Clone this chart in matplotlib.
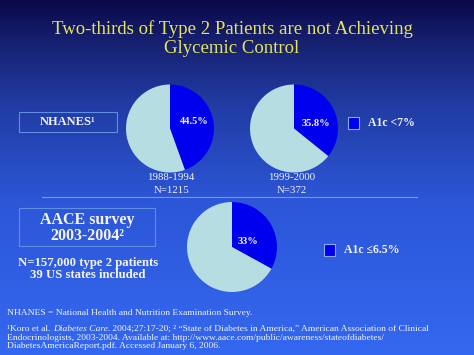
import numpy as np
import matplotlib
matplotlib.use("Agg")
import matplotlib.pyplot as plt
from matplotlib.patches import Rectangle
from matplotlib.lines import Line2D

# ---- data ----
title = "Two-thirds of Type 2 Patients are not Achieving\nGlycemic Control"
nhanes_periods = ["1988-1994", "1999-2000"]
nhanes_n = ["N=1215", "N=372"]
nhanes_pct = [44.5, 35.8]
aace_pct = [33]
legend_labels = ["A1c <7%", "A1c \u22646.5%"]
nhanes_label = "NHANES\u00b9"
aace_label = "AACE survey\n2003-2004\u00b2"
aace_note = "N=157,000 type 2 patients\n39 US states included"

W, H = 474, 355
fig = plt.figure(figsize=(W / 100, H / 100), dpi=100)

# background gradient
bg = fig.add_axes([0, 0, 1, 1])
stops_y = np.array([0, 40, 100, 200, 355]) / H
stops_c = np.array([[10, 8, 72], [22, 32, 110], [32, 58, 160], [44, 86, 215], [52, 104, 240]]) / 255
yy = np.linspace(0, 1, 400)
grad = np.stack([np.interp(yy, stops_y, stops_c[:, i]) for i in range(3)], axis=1)
bg.imshow(grad[:, None, :], aspect="auto", extent=[0, W, H, 0])
bg.set_xlim(0, W)
bg.set_ylim(H, 0)
bg.axis("off")

SERIF = ["Liberation Serif", "DejaVu Serif"]
yellow = "#e6e55a"
white = "#f4f4f4"
blue = "#0000ee"
light = "#b6dde2"
edge_light = "#5f8fe0"

# title
bg.text(232, 38.5, title, ha="center", va="center", color=yellow, fontsize=13.5,
        family=SERIF, linespacing=1.12)

# pies
def pie_at(cx, cy, r, pct, lx, ly):
    ax = fig.add_axes([(cx - r) / W, (H - cy - r) / H, 2 * r / W, 2 * r / H])
    ax.pie([pct, 100 - pct], colors=[blue, light], startangle=90, counterclock=False,
           radius=1, wedgeprops=dict(linewidth=0))
    ax.set_xlim(-1, 1)
    ax.set_ylim(-1, 1)
    ax.set_aspect("auto")
    ax.axis("off")
    s = f"{pct:g}%" if float(pct).is_integer() else f"{pct:.1f}%"
    ax.text(lx, ly, s, ha="center", va="center", color=white, fontsize=7.5,
            family=SERIF, fontweight="bold", zorder=10, transform=bg.transData, clip_on=False)

pie_at(170, 128.5, 44, nhanes_pct[0], 194, 122)
pie_at(294, 128.5, 44, nhanes_pct[1], 316, 123)
pie_at(232, 247, 45, aace_pct[0], 248, 242)

# period labels
for x, p, n in zip([171, 292], nhanes_periods, nhanes_n):
    bg.text(x, 178, p, ha="center", va="center", color=white, fontsize=7.8, family=SERIF)
    bg.text(x, 190.5, n, ha="center", va="center", color=white, fontsize=7.8, family=SERIF)

# legend squares
for (sx, sy, lab) in [(348, 117, legend_labels[0]), (324, 244, legend_labels[1])]:
    bg.add_patch(Rectangle((sx, sy), 11, 12, facecolor=blue, edgecolor="#8aa8ea", lw=0.8))
    bg.text(sx + 20, sy + 6, lab, ha="left", va="center", color=white, fontsize=8.5,
            family=SERIF, fontweight="bold")

# boxes
bg.add_patch(Rectangle((19, 112), 98, 20, facecolor="none", edgecolor=edge_light, lw=0.8))
bg.text(68, 122, nhanes_label, ha="center", va="center", color=white, fontsize=9,
        family=SERIF, fontweight="bold")
bg.add_patch(Rectangle((19, 208), 136, 38, facecolor="none", edgecolor=edge_light, lw=0.8))
bg.text(87, 227.5, aace_label, ha="center", va="center", color=white, fontsize=11.5,
        family=SERIF, fontweight="bold", linespacing=1.0)
bg.text(88, 269, aace_note, ha="center", va="center", color=white, fontsize=9.2,
        family=SERIF, fontweight="bold", linespacing=1.0)

# separator
bg.add_line(Line2D([42, 417], [197, 197], color="#6f9be8", lw=0.8))

# footnotes
fs = 6.8
bg.text(7, 313, "NHANES = National Health and Nutrition Examination Survey.", ha="left",
        va="center", color=white, fontsize=fs, family=SERIF)

fig.canvas.draw()
renderer = fig.canvas.get_renderer()
inv = bg.transData.inverted()

def run(x, y, pieces):
    for s, style in pieces:
        t = bg.text(x, y, s, ha="left", va="center", color=white, fontsize=fs,
                    family=SERIF, style=style)
        bb = t.get_window_extent(renderer)
        x = inv.transform((bb.x1, bb.y0))[0]

run(7, 329, [("\u00b9Koro et al. ", "normal"), ("Diabetes Care.", "italic"),
             (" 2004;27:17-20; \u00b2 \u201cState of Diabetes in America,\u201d American Association of Clinical", "normal")])
bg.text(7, 337.5, "Endocrinologists, 2003-2004. Available at: http://www.aace.com/public/awareness/stateofdiabetes/",
        ha="left", va="center", color=white, fontsize=fs, family=SERIF)
bg.text(7, 346, "DiabetesAmericaReport.pdf. Accessed January 6, 2006.",
        ha="left", va="center", color=white, fontsize=fs, family=SERIF)

fig.savefig("out.png", dpi=100)
